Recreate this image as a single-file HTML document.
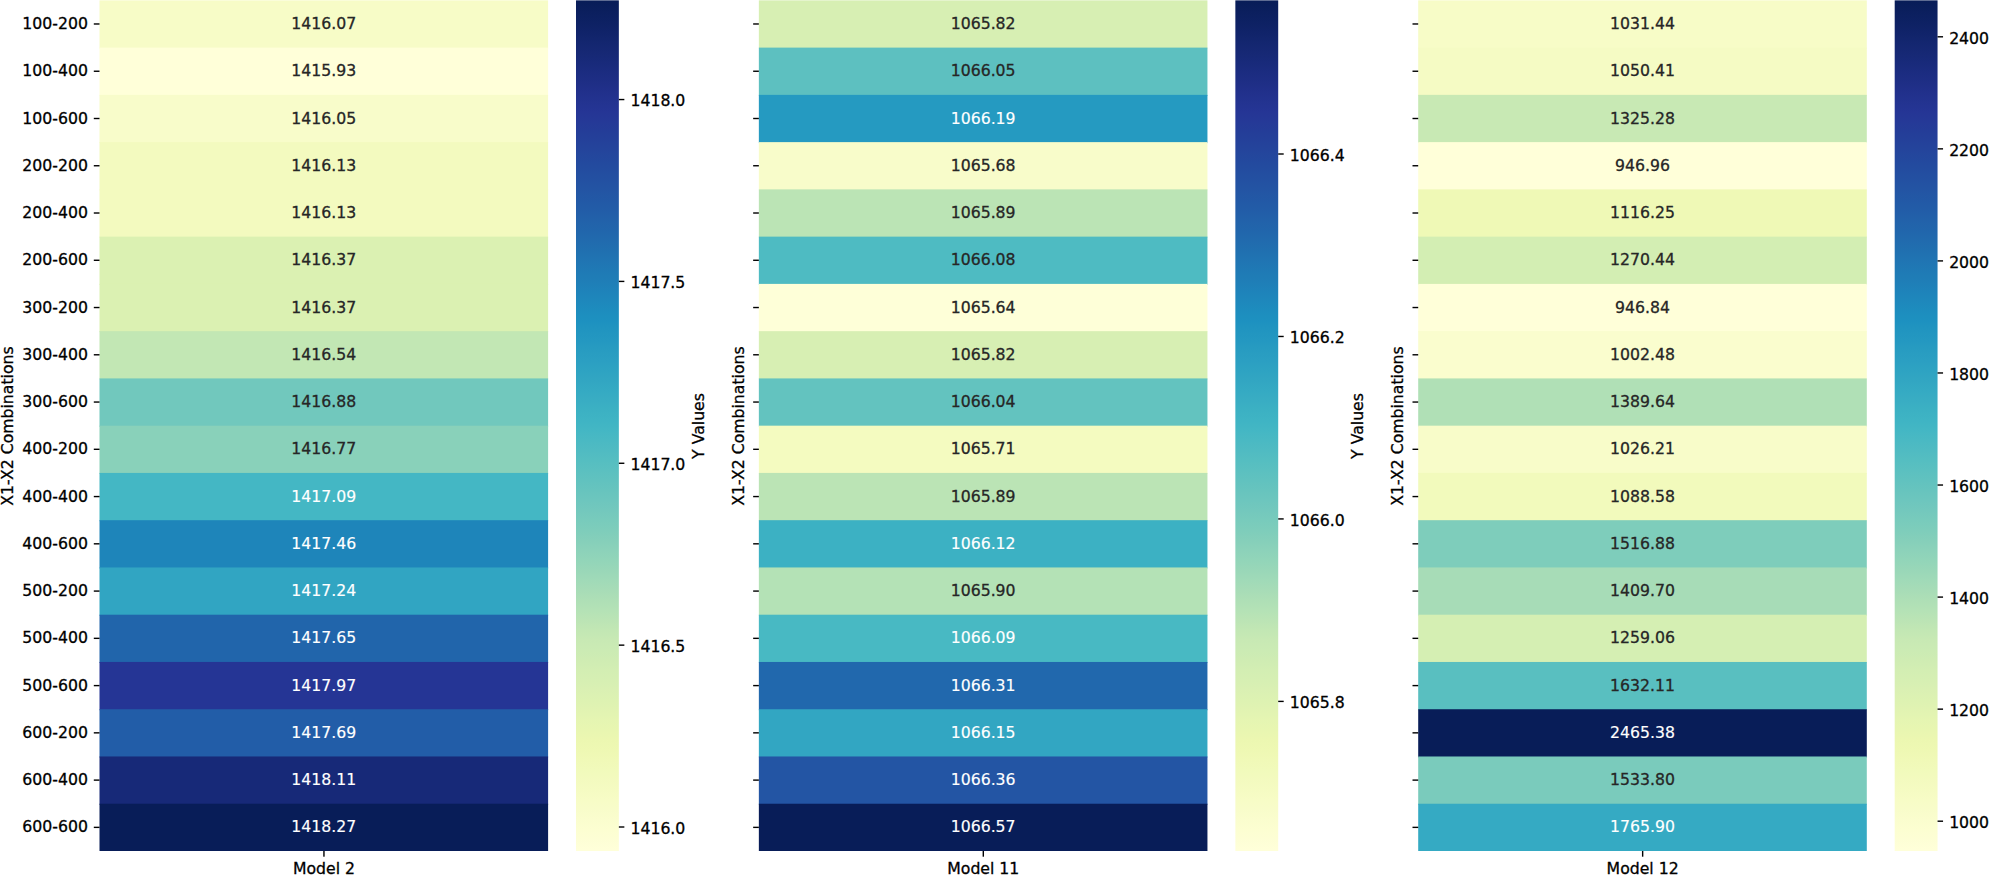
<!DOCTYPE html>
<html><head><meta charset="utf-8"><title>Heatmaps</title>
<style>
html,body{margin:0;padding:0;background:#fff;}
body{width:2008px;height:875px;position:relative;overflow:hidden;font-family:"DejaVu Sans","Liberation Sans",sans-serif;font-size:15.7px;color:#000;-webkit-text-stroke:0.3px currentColor;}
.c{position:absolute;}
.t{position:absolute;white-space:nowrap;line-height:1;}
.a{position:absolute;white-space:nowrap;line-height:1;text-align:center;width:448.60px;color:#262626;}
.w{color:#fff;-webkit-text-stroke:0.15px #fff;}
.tk{position:absolute;background:#000;}
.yl{position:absolute;white-space:nowrap;line-height:1;width:300px;text-align:center;transform-origin:0 0;transform:rotate(-90deg);}
</style></head><body>

<svg class="c" style="left:0;top:0" width="2008" height="875" viewBox="0 0 2008 875"><defs><linearGradient id="g" x1="0" y1="0" x2="0" y2="1"><stop offset="0.0020" stop-color="#081d58"/><stop offset="0.0137" stop-color="#0b1f5e"/><stop offset="0.0254" stop-color="#0d2163"/><stop offset="0.0371" stop-color="#102369"/><stop offset="0.0488" stop-color="#13266f"/><stop offset="0.0605" stop-color="#162874"/><stop offset="0.0723" stop-color="#182a7a"/><stop offset="0.0840" stop-color="#1b2c80"/><stop offset="0.0957" stop-color="#1e2e85"/><stop offset="0.1074" stop-color="#21308b"/><stop offset="0.1191" stop-color="#233390"/><stop offset="0.1309" stop-color="#253595"/><stop offset="0.1426" stop-color="#253997"/><stop offset="0.1543" stop-color="#243d98"/><stop offset="0.1660" stop-color="#24419a"/><stop offset="0.1777" stop-color="#24459c"/><stop offset="0.1895" stop-color="#23499e"/><stop offset="0.2012" stop-color="#234da0"/><stop offset="0.2129" stop-color="#2351a2"/><stop offset="0.2246" stop-color="#2355a4"/><stop offset="0.2363" stop-color="#2259a6"/><stop offset="0.2480" stop-color="#225da8"/><stop offset="0.2598" stop-color="#2262aa"/><stop offset="0.2715" stop-color="#2166ac"/><stop offset="0.2832" stop-color="#216bae"/><stop offset="0.2949" stop-color="#2070b0"/><stop offset="0.3066" stop-color="#2075b3"/><stop offset="0.3184" stop-color="#1f7ab5"/><stop offset="0.3301" stop-color="#1f7eb7"/><stop offset="0.3418" stop-color="#1e83ba"/><stop offset="0.3535" stop-color="#1e88bc"/><stop offset="0.3652" stop-color="#1d8dbe"/><stop offset="0.3770" stop-color="#1d91c0"/><stop offset="0.3887" stop-color="#2195c0"/><stop offset="0.4004" stop-color="#2498c1"/><stop offset="0.4121" stop-color="#289cc1"/><stop offset="0.4238" stop-color="#2b9fc2"/><stop offset="0.4355" stop-color="#2ea3c2"/><stop offset="0.4473" stop-color="#32a6c2"/><stop offset="0.4590" stop-color="#35aac3"/><stop offset="0.4707" stop-color="#39adc3"/><stop offset="0.4824" stop-color="#3cb1c3"/><stop offset="0.4941" stop-color="#3fb4c4"/><stop offset="0.5059" stop-color="#44b7c4"/><stop offset="0.5176" stop-color="#4ab9c3"/><stop offset="0.5293" stop-color="#50bbc2"/><stop offset="0.5410" stop-color="#55bec1"/><stop offset="0.5527" stop-color="#5bc0c0"/><stop offset="0.5645" stop-color="#61c2bf"/><stop offset="0.5762" stop-color="#67c4be"/><stop offset="0.5879" stop-color="#6dc6be"/><stop offset="0.5996" stop-color="#73c8bd"/><stop offset="0.6113" stop-color="#78cbbc"/><stop offset="0.6230" stop-color="#7ecdbb"/><stop offset="0.6348" stop-color="#85cfba"/><stop offset="0.6465" stop-color="#8cd2ba"/><stop offset="0.6582" stop-color="#92d5b9"/><stop offset="0.6699" stop-color="#99d7b8"/><stop offset="0.6816" stop-color="#a0dab8"/><stop offset="0.6934" stop-color="#a7dcb7"/><stop offset="0.7051" stop-color="#aedfb6"/><stop offset="0.7168" stop-color="#b4e2b6"/><stop offset="0.7285" stop-color="#bbe4b5"/><stop offset="0.7402" stop-color="#c2e7b4"/><stop offset="0.7520" stop-color="#c8e9b4"/><stop offset="0.7637" stop-color="#cbebb4"/><stop offset="0.7754" stop-color="#cfecb3"/><stop offset="0.7871" stop-color="#d3eeb3"/><stop offset="0.7988" stop-color="#d6efb3"/><stop offset="0.8105" stop-color="#daf0b3"/><stop offset="0.8223" stop-color="#ddf2b2"/><stop offset="0.8340" stop-color="#e1f3b2"/><stop offset="0.8457" stop-color="#e5f5b2"/><stop offset="0.8574" stop-color="#e8f6b1"/><stop offset="0.8691" stop-color="#ecf7b1"/><stop offset="0.8809" stop-color="#eef8b3"/><stop offset="0.8926" stop-color="#f0f9b7"/><stop offset="0.9043" stop-color="#f1fabb"/><stop offset="0.9160" stop-color="#f3fabf"/><stop offset="0.9277" stop-color="#f5fbc2"/><stop offset="0.9395" stop-color="#f7fcc6"/><stop offset="0.9512" stop-color="#f8fcca"/><stop offset="0.9629" stop-color="#fafdce"/><stop offset="0.9746" stop-color="#fcfed1"/><stop offset="0.9863" stop-color="#fdfed5"/><stop offset="0.9980" stop-color="#ffffd9"/></linearGradient></defs>
<!-- Model 2 -->
<rect x="99.50" y="0.35" width="448.60" height="48.26" fill="#f7fcc7"/>
<rect x="99.50" y="47.61" width="448.60" height="48.26" fill="#ffffd9"/>
<rect x="99.50" y="94.87" width="448.60" height="48.26" fill="#f8fcca"/>
<rect x="99.50" y="142.12" width="448.60" height="48.26" fill="#f3fabf"/>
<rect x="99.50" y="189.38" width="448.60" height="48.26" fill="#f3fabf"/>
<rect x="99.50" y="236.64" width="448.60" height="48.26" fill="#dbf1b2"/>
<rect x="99.50" y="283.90" width="448.60" height="48.26" fill="#dbf1b2"/>
<rect x="99.50" y="331.16" width="448.60" height="48.26" fill="#c2e7b4"/>
<rect x="99.50" y="378.42" width="448.60" height="48.26" fill="#71c8bd"/>
<rect x="99.50" y="425.68" width="448.60" height="48.26" fill="#89d1ba"/>
<rect x="99.50" y="472.93" width="448.60" height="48.26" fill="#44b7c4"/>
<rect x="99.50" y="520.19" width="448.60" height="48.26" fill="#1e85ba"/>
<rect x="99.50" y="567.45" width="448.60" height="48.26" fill="#31a5c2"/>
<rect x="99.50" y="614.71" width="448.60" height="48.26" fill="#2165ab"/>
<rect x="99.50" y="661.97" width="448.60" height="48.26" fill="#253595"/>
<rect x="99.50" y="709.23" width="448.60" height="48.26" fill="#225da8"/>
<rect x="99.50" y="756.48" width="448.60" height="48.26" fill="#172978"/>
<rect x="99.50" y="803.74" width="448.60" height="47.26" fill="#081d58"/>
<rect x="93.80" y="23.28" width="5.70" height="1.4"/>
<rect x="93.80" y="70.54" width="5.70" height="1.4"/>
<rect x="93.80" y="117.80" width="5.70" height="1.4"/>
<rect x="93.80" y="165.05" width="5.70" height="1.4"/>
<rect x="93.80" y="212.31" width="5.70" height="1.4"/>
<rect x="93.80" y="259.57" width="5.70" height="1.4"/>
<rect x="93.80" y="306.83" width="5.70" height="1.4"/>
<rect x="93.80" y="354.09" width="5.70" height="1.4"/>
<rect x="93.80" y="401.35" width="5.70" height="1.4"/>
<rect x="93.80" y="448.60" width="5.70" height="1.4"/>
<rect x="93.80" y="495.86" width="5.70" height="1.4"/>
<rect x="93.80" y="543.12" width="5.70" height="1.4"/>
<rect x="93.80" y="590.38" width="5.70" height="1.4"/>
<rect x="93.80" y="637.64" width="5.70" height="1.4"/>
<rect x="93.80" y="684.90" width="5.70" height="1.4"/>
<rect x="93.80" y="732.15" width="5.70" height="1.4"/>
<rect x="93.80" y="779.41" width="5.70" height="1.4"/>
<rect x="93.80" y="826.67" width="5.70" height="1.4"/>
<rect x="323.25" y="851.00" width="1.4" height="5.70"/>
<rect x="576.00" y="0.35" width="42.85" height="850.65" fill="url(#g)"/>
<rect x="618.85" y="826.30" width="5.50" height="1.4"/>
<rect x="618.85" y="644.44" width="5.50" height="1.4"/>
<rect x="618.85" y="462.57" width="5.50" height="1.4"/>
<rect x="618.85" y="280.71" width="5.50" height="1.4"/>
<rect x="618.85" y="98.85" width="5.50" height="1.4"/>
<!-- Model 11 -->
<rect x="758.85" y="0.35" width="448.60" height="48.26" fill="#d7efb3"/>
<rect x="758.85" y="47.61" width="448.60" height="48.26" fill="#5dc0c0"/>
<rect x="758.85" y="94.87" width="448.60" height="48.26" fill="#259ac1"/>
<rect x="758.85" y="142.12" width="448.60" height="48.26" fill="#f8fcca"/>
<rect x="758.85" y="189.38" width="448.60" height="48.26" fill="#bbe4b5"/>
<rect x="758.85" y="236.64" width="448.60" height="48.26" fill="#4ebbc2"/>
<rect x="758.85" y="283.90" width="448.60" height="48.26" fill="#feffd8"/>
<rect x="758.85" y="331.16" width="448.60" height="48.26" fill="#d7efb3"/>
<rect x="758.85" y="378.42" width="448.60" height="48.26" fill="#63c3bf"/>
<rect x="758.85" y="425.68" width="448.60" height="48.26" fill="#f4fbc0"/>
<rect x="758.85" y="472.93" width="448.60" height="48.26" fill="#bbe4b5"/>
<rect x="758.85" y="520.19" width="448.60" height="48.26" fill="#3cb1c3"/>
<rect x="758.85" y="567.45" width="448.60" height="48.26" fill="#b4e2b6"/>
<rect x="758.85" y="614.71" width="448.60" height="48.26" fill="#48b9c3"/>
<rect x="758.85" y="661.97" width="448.60" height="48.26" fill="#2168ad"/>
<rect x="758.85" y="709.23" width="448.60" height="48.26" fill="#32a6c2"/>
<rect x="758.85" y="756.48" width="448.60" height="48.26" fill="#2355a4"/>
<rect x="758.85" y="803.74" width="448.60" height="47.26" fill="#081d58"/>
<rect x="753.15" y="23.28" width="5.70" height="1.4"/>
<rect x="753.15" y="70.54" width="5.70" height="1.4"/>
<rect x="753.15" y="117.80" width="5.70" height="1.4"/>
<rect x="753.15" y="165.05" width="5.70" height="1.4"/>
<rect x="753.15" y="212.31" width="5.70" height="1.4"/>
<rect x="753.15" y="259.57" width="5.70" height="1.4"/>
<rect x="753.15" y="306.83" width="5.70" height="1.4"/>
<rect x="753.15" y="354.09" width="5.70" height="1.4"/>
<rect x="753.15" y="401.35" width="5.70" height="1.4"/>
<rect x="753.15" y="448.60" width="5.70" height="1.4"/>
<rect x="753.15" y="495.86" width="5.70" height="1.4"/>
<rect x="753.15" y="543.12" width="5.70" height="1.4"/>
<rect x="753.15" y="590.38" width="5.70" height="1.4"/>
<rect x="753.15" y="637.64" width="5.70" height="1.4"/>
<rect x="753.15" y="684.90" width="5.70" height="1.4"/>
<rect x="753.15" y="732.15" width="5.70" height="1.4"/>
<rect x="753.15" y="779.41" width="5.70" height="1.4"/>
<rect x="753.15" y="826.67" width="5.70" height="1.4"/>
<rect x="982.60" y="851.00" width="1.4" height="5.70"/>
<rect x="1235.35" y="0.35" width="42.85" height="850.65" fill="url(#g)"/>
<rect x="1278.20" y="700.70" width="5.50" height="1.4"/>
<rect x="1278.20" y="518.23" width="5.50" height="1.4"/>
<rect x="1278.20" y="335.77" width="5.50" height="1.4"/>
<rect x="1278.20" y="153.30" width="5.50" height="1.4"/>
<!-- Model 12 -->
<rect x="1418.20" y="0.35" width="448.60" height="48.26" fill="#f7fcc7"/>
<rect x="1418.20" y="47.61" width="448.60" height="48.26" fill="#f5fbc4"/>
<rect x="1418.20" y="94.87" width="448.60" height="48.26" fill="#c8e9b4"/>
<rect x="1418.20" y="142.12" width="448.60" height="48.26" fill="#ffffd9"/>
<rect x="1418.20" y="189.38" width="448.60" height="48.26" fill="#eff9b6"/>
<rect x="1418.20" y="236.64" width="448.60" height="48.26" fill="#d3eeb3"/>
<rect x="1418.20" y="283.90" width="448.60" height="48.26" fill="#ffffd9"/>
<rect x="1418.20" y="331.16" width="448.60" height="48.26" fill="#fafdce"/>
<rect x="1418.20" y="378.42" width="448.60" height="48.26" fill="#b0e0b6"/>
<rect x="1418.20" y="425.68" width="448.60" height="48.26" fill="#f8fcc9"/>
<rect x="1418.20" y="472.93" width="448.60" height="48.26" fill="#f2fabc"/>
<rect x="1418.20" y="520.19" width="448.60" height="48.26" fill="#7ecdbb"/>
<rect x="1418.20" y="567.45" width="448.60" height="48.26" fill="#a7dcb7"/>
<rect x="1418.20" y="614.71" width="448.60" height="48.26" fill="#d5efb3"/>
<rect x="1418.20" y="661.97" width="448.60" height="48.26" fill="#59bfc0"/>
<rect x="1418.20" y="709.23" width="448.60" height="48.26" fill="#081d58"/>
<rect x="1418.20" y="756.48" width="448.60" height="48.26" fill="#7acbbc"/>
<rect x="1418.20" y="803.74" width="448.60" height="47.26" fill="#35aac3"/>
<rect x="1412.50" y="23.28" width="5.70" height="1.4"/>
<rect x="1412.50" y="70.54" width="5.70" height="1.4"/>
<rect x="1412.50" y="117.80" width="5.70" height="1.4"/>
<rect x="1412.50" y="165.05" width="5.70" height="1.4"/>
<rect x="1412.50" y="212.31" width="5.70" height="1.4"/>
<rect x="1412.50" y="259.57" width="5.70" height="1.4"/>
<rect x="1412.50" y="306.83" width="5.70" height="1.4"/>
<rect x="1412.50" y="354.09" width="5.70" height="1.4"/>
<rect x="1412.50" y="401.35" width="5.70" height="1.4"/>
<rect x="1412.50" y="448.60" width="5.70" height="1.4"/>
<rect x="1412.50" y="495.86" width="5.70" height="1.4"/>
<rect x="1412.50" y="543.12" width="5.70" height="1.4"/>
<rect x="1412.50" y="590.38" width="5.70" height="1.4"/>
<rect x="1412.50" y="637.64" width="5.70" height="1.4"/>
<rect x="1412.50" y="684.90" width="5.70" height="1.4"/>
<rect x="1412.50" y="732.15" width="5.70" height="1.4"/>
<rect x="1412.50" y="779.41" width="5.70" height="1.4"/>
<rect x="1412.50" y="826.67" width="5.70" height="1.4"/>
<rect x="1641.95" y="851.00" width="1.4" height="5.70"/>
<rect x="1894.70" y="0.35" width="42.85" height="850.65" fill="url(#g)"/>
<rect x="1937.55" y="820.50" width="5.50" height="1.4"/>
<rect x="1937.55" y="708.44" width="5.50" height="1.4"/>
<rect x="1937.55" y="596.39" width="5.50" height="1.4"/>
<rect x="1937.55" y="484.33" width="5.50" height="1.4"/>
<rect x="1937.55" y="372.27" width="5.50" height="1.4"/>
<rect x="1937.55" y="260.21" width="5.50" height="1.4"/>
<rect x="1937.55" y="148.16" width="5.50" height="1.4"/>
<rect x="1937.55" y="36.10" width="5.50" height="1.4"/>
</svg>
<!-- Model 2 -->
<div class="a" style="left:99.50px;top:16.00px">1416.07</div>
<div class="t" style="right:1920.15px;top:16.00px">100-200</div>
<div class="a" style="left:99.50px;top:63.00px">1415.93</div>
<div class="t" style="right:1920.15px;top:63.00px">100-400</div>
<div class="a" style="left:99.50px;top:111.00px">1416.05</div>
<div class="t" style="right:1920.15px;top:111.00px">100-600</div>
<div class="a" style="left:99.50px;top:158.00px">1416.13</div>
<div class="t" style="right:1920.15px;top:158.00px">200-200</div>
<div class="a" style="left:99.50px;top:205.00px">1416.13</div>
<div class="t" style="right:1920.15px;top:205.00px">200-400</div>
<div class="a" style="left:99.50px;top:252.00px">1416.37</div>
<div class="t" style="right:1920.15px;top:252.00px">200-600</div>
<div class="a" style="left:99.50px;top:300.00px">1416.37</div>
<div class="t" style="right:1920.15px;top:300.00px">300-200</div>
<div class="a" style="left:99.50px;top:347.00px">1416.54</div>
<div class="t" style="right:1920.15px;top:347.00px">300-400</div>
<div class="a" style="left:99.50px;top:394.00px">1416.88</div>
<div class="t" style="right:1920.15px;top:394.00px">300-600</div>
<div class="a" style="left:99.50px;top:441.00px">1416.77</div>
<div class="t" style="right:1920.15px;top:441.00px">400-200</div>
<div class="a w" style="left:99.50px;top:489.00px">1417.09</div>
<div class="t" style="right:1920.15px;top:489.00px">400-400</div>
<div class="a w" style="left:99.50px;top:536.00px">1417.46</div>
<div class="t" style="right:1920.15px;top:536.00px">400-600</div>
<div class="a w" style="left:99.50px;top:583.00px">1417.24</div>
<div class="t" style="right:1920.15px;top:583.00px">500-200</div>
<div class="a w" style="left:99.50px;top:630.00px">1417.65</div>
<div class="t" style="right:1920.15px;top:630.00px">500-400</div>
<div class="a w" style="left:99.50px;top:678.00px">1417.97</div>
<div class="t" style="right:1920.15px;top:678.00px">500-600</div>
<div class="a w" style="left:99.50px;top:725.00px">1417.69</div>
<div class="t" style="right:1920.15px;top:725.00px">600-200</div>
<div class="a w" style="left:99.50px;top:772.00px">1418.11</div>
<div class="t" style="right:1920.15px;top:772.00px">600-400</div>
<div class="a w" style="left:99.50px;top:819.00px">1418.27</div>
<div class="t" style="right:1920.15px;top:819.00px">600-600</div>
<div class="t" style="left:173.95px;width:300px;text-align:center;top:861.11px">Model 2</div>
<div class="yl" style="left:-0.03px;top:575.67px">X1-X2 Combinations</div>
<div class="t" style="left:630.45px;top:821.00px">1416.0</div>
<div class="t" style="left:630.45px;top:639.00px">1416.5</div>
<div class="t" style="left:630.45px;top:457.00px">1417.0</div>
<div class="t" style="left:630.45px;top:275.00px">1417.5</div>
<div class="t" style="left:630.45px;top:93.00px">1418.0</div>
<div class="yl" style="left:690.87px;top:575.67px">Y Values</div>
<!-- Model 11 -->
<div class="a" style="left:758.85px;top:16.00px">1065.82</div>
<div class="a" style="left:758.85px;top:63.00px">1066.05</div>
<div class="a w" style="left:758.85px;top:111.00px">1066.19</div>
<div class="a" style="left:758.85px;top:158.00px">1065.68</div>
<div class="a" style="left:758.85px;top:205.00px">1065.89</div>
<div class="a" style="left:758.85px;top:252.00px">1066.08</div>
<div class="a" style="left:758.85px;top:300.00px">1065.64</div>
<div class="a" style="left:758.85px;top:347.00px">1065.82</div>
<div class="a" style="left:758.85px;top:394.00px">1066.04</div>
<div class="a" style="left:758.85px;top:441.00px">1065.71</div>
<div class="a" style="left:758.85px;top:489.00px">1065.89</div>
<div class="a w" style="left:758.85px;top:536.00px">1066.12</div>
<div class="a" style="left:758.85px;top:583.00px">1065.90</div>
<div class="a w" style="left:758.85px;top:630.00px">1066.09</div>
<div class="a w" style="left:758.85px;top:678.00px">1066.31</div>
<div class="a w" style="left:758.85px;top:725.00px">1066.15</div>
<div class="a w" style="left:758.85px;top:772.00px">1066.36</div>
<div class="a w" style="left:758.85px;top:819.00px">1066.57</div>
<div class="t" style="left:833.30px;width:300px;text-align:center;top:861.11px">Model 11</div>
<div class="yl" style="left:730.67px;top:575.67px">X1-X2 Combinations</div>
<div class="t" style="left:1289.80px;top:695.00px">1065.8</div>
<div class="t" style="left:1289.80px;top:513.00px">1066.0</div>
<div class="t" style="left:1289.80px;top:330.00px">1066.2</div>
<div class="t" style="left:1289.80px;top:148.00px">1066.4</div>
<div class="yl" style="left:1350.22px;top:575.67px">Y Values</div>
<!-- Model 12 -->
<div class="a" style="left:1418.20px;top:16.00px">1031.44</div>
<div class="a" style="left:1418.20px;top:63.00px">1050.41</div>
<div class="a" style="left:1418.20px;top:111.00px">1325.28</div>
<div class="a" style="left:1418.20px;top:158.00px">946.96</div>
<div class="a" style="left:1418.20px;top:205.00px">1116.25</div>
<div class="a" style="left:1418.20px;top:252.00px">1270.44</div>
<div class="a" style="left:1418.20px;top:300.00px">946.84</div>
<div class="a" style="left:1418.20px;top:347.00px">1002.48</div>
<div class="a" style="left:1418.20px;top:394.00px">1389.64</div>
<div class="a" style="left:1418.20px;top:441.00px">1026.21</div>
<div class="a" style="left:1418.20px;top:489.00px">1088.58</div>
<div class="a" style="left:1418.20px;top:536.00px">1516.88</div>
<div class="a" style="left:1418.20px;top:583.00px">1409.70</div>
<div class="a" style="left:1418.20px;top:630.00px">1259.06</div>
<div class="a" style="left:1418.20px;top:678.00px">1632.11</div>
<div class="a w" style="left:1418.20px;top:725.00px">2465.38</div>
<div class="a" style="left:1418.20px;top:772.00px">1533.80</div>
<div class="a w" style="left:1418.20px;top:819.00px">1765.90</div>
<div class="t" style="left:1492.65px;width:300px;text-align:center;top:861.11px">Model 12</div>
<div class="yl" style="left:1390.02px;top:575.67px">X1-X2 Combinations</div>
<div class="t" style="left:1949.15px;top:815.00px">1000</div>
<div class="t" style="left:1949.15px;top:703.00px">1200</div>
<div class="t" style="left:1949.15px;top:591.00px">1400</div>
<div class="t" style="left:1949.15px;top:479.00px">1600</div>
<div class="t" style="left:1949.15px;top:367.00px">1800</div>
<div class="t" style="left:1949.15px;top:255.00px">2000</div>
<div class="t" style="left:1949.15px;top:143.00px">2200</div>
<div class="t" style="left:1949.15px;top:31.00px">2400</div>
<div class="yl" style="left:2009.57px;top:575.67px">Y Values</div>
</body></html>
